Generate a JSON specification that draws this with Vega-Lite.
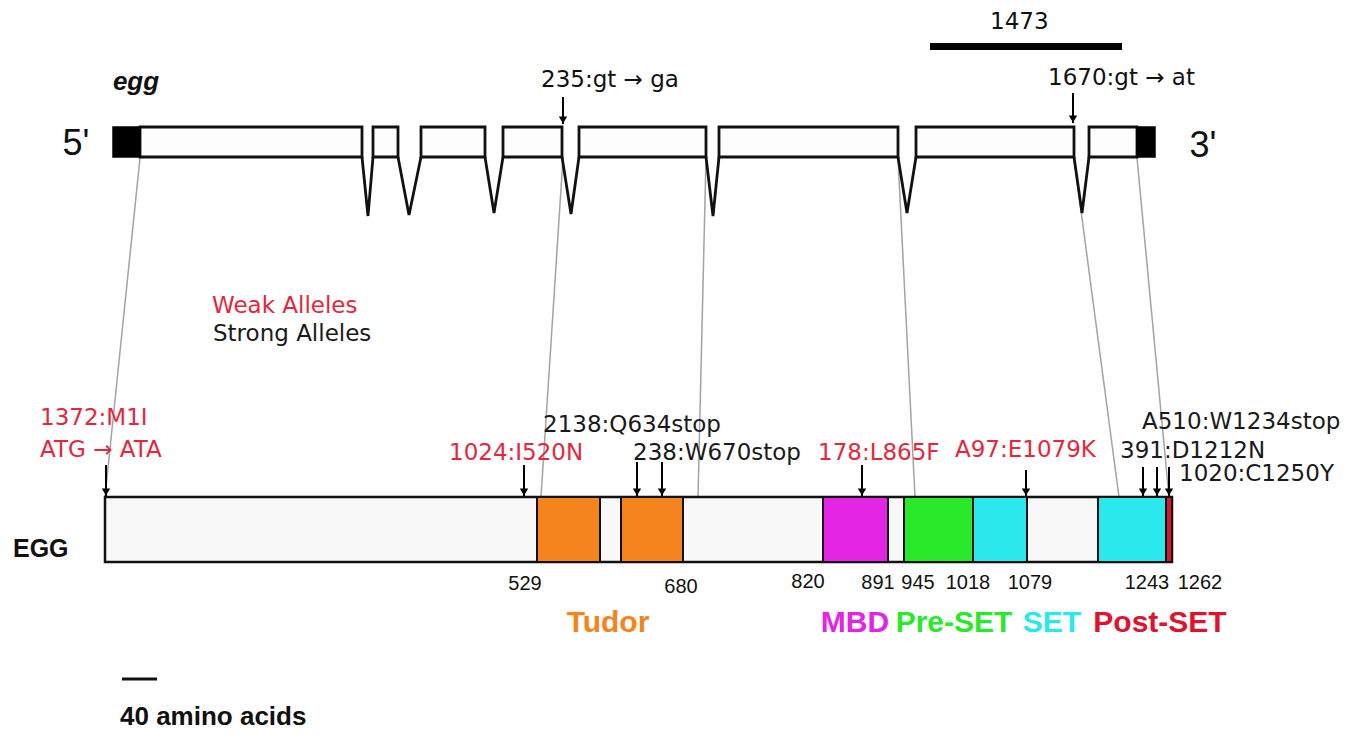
{
  "$schema": "https://vega.github.io/schema/vega-lite/v6.json",
  "width": 1370,
  "height": 741,
  "autosize": {"type": "fit", "contains": "padding"},
  "padding": 0,
  "background": "white",
  "config": {"view": {"stroke": null}},
  "datasets": {
    "connectors": [
      {"x": 140, "y": 158, "x2": 105, "y2": 497},
      {"x": 563, "y": 158, "x2": 541, "y2": 497},
      {"x": 706, "y": 158, "x2": 698, "y2": 497},
      {"x": 898, "y": 158, "x2": 915, "y2": 497},
      {"x": 1074, "y": 158, "x2": 1119, "y2": 497},
      {"x": 1137, "y": 158, "x2": 1169, "y2": 497}
    ],
    "gene": [
      {"part": "exon", "x": 140, "x2": 362, "y": 127, "y2": 157},
      {"part": "exon", "x": 373, "x2": 398, "y": 127, "y2": 157},
      {"part": "exon", "x": 421, "x2": 485, "y": 127, "y2": 157},
      {"part": "exon", "x": 503, "x2": 562, "y": 127, "y2": 157},
      {"part": "exon", "x": 579, "x2": 706, "y": 127, "y2": 157},
      {"part": "exon", "x": 719, "x2": 898, "y": 127, "y2": 157},
      {"part": "exon", "x": 916, "x2": 1074, "y": 127, "y2": 157},
      {"part": "exon", "x": 1089, "x2": 1137, "y": 127, "y2": 157},
      {"part": "utr", "x": 113, "x2": 140, "y": 127, "y2": 157},
      {"part": "utr", "x": 1137, "x2": 1155, "y": 127, "y2": 157}
    ],
    "introns": [
      {"id": 1, "k": 0, "x": 362, "y": 157}, {"id": 1, "k": 1, "x": 368, "y": 216}, {"id": 1, "k": 2, "x": 373, "y": 157},
      {"id": 2, "k": 0, "x": 398, "y": 157}, {"id": 2, "k": 1, "x": 409, "y": 215}, {"id": 2, "k": 2, "x": 421, "y": 157},
      {"id": 3, "k": 0, "x": 485, "y": 157}, {"id": 3, "k": 1, "x": 494, "y": 213}, {"id": 3, "k": 2, "x": 503, "y": 157},
      {"id": 4, "k": 0, "x": 562, "y": 157}, {"id": 4, "k": 1, "x": 571, "y": 214}, {"id": 4, "k": 2, "x": 579, "y": 157},
      {"id": 5, "k": 0, "x": 706, "y": 157}, {"id": 5, "k": 1, "x": 713, "y": 216}, {"id": 5, "k": 2, "x": 719, "y": 157},
      {"id": 6, "k": 0, "x": 898, "y": 157}, {"id": 6, "k": 1, "x": 907, "y": 213}, {"id": 6, "k": 2, "x": 916, "y": 157},
      {"id": 7, "k": 0, "x": 1074, "y": 157}, {"id": 7, "k": 1, "x": 1082, "y": 213}, {"id": 7, "k": 2, "x": 1089, "y": 157}
    ],
    "scalebars": [
      {"bar": "1473 bp", "x": 930, "x2": 1122, "y": 46.5},
      {"bar": "40 aa", "x": 122, "x2": 157, "y": 679}
    ],
    "protein": [
      {"x": 105, "x2": 1172, "y": 497, "y2": 562}
    ],
    "domains": [
      {"kind": "Tudor", "x": 537, "x2": 600, "y": 497, "y2": 562},
      {"kind": "Tudor", "x": 621, "x2": 683, "y": 497, "y2": 562},
      {"kind": "MBD", "x": 823, "x2": 888, "y": 497, "y2": 562},
      {"kind": "Pre-SET", "x": 904, "x2": 973, "y": 497, "y2": 562},
      {"kind": "SET", "x": 973, "x2": 1027, "y": 497, "y2": 562},
      {"kind": "SET", "x": 1098, "x2": 1166, "y": 497, "y2": 562},
      {"kind": "Post-SET", "x": 1166, "x2": 1172, "y": 497, "y2": 562}
    ],
    "arrows": [
      {"x": 563, "y": 97, "y2": 124},
      {"x": 1073, "y": 93, "y2": 123},
      {"x": 106, "y": 465, "y2": 496},
      {"x": 524, "y": 465, "y2": 496},
      {"x": 637, "y": 462, "y2": 496},
      {"x": 662, "y": 462, "y2": 496},
      {"x": 862, "y": 465, "y2": 496},
      {"x": 1026, "y": 470, "y2": 496},
      {"x": 1143, "y": 467, "y2": 496},
      {"x": 1157, "y": 467, "y2": 496},
      {"x": 1169, "y": 467, "y2": 496}
    ],
    "texts": [
      {"g": "egg", "t": "egg", "x": 136, "y": 82, "kind": "plain"},
      {"g": "prime", "t": "5'", "x": 76, "y": 144, "kind": "plain"},
      {"g": "prime", "t": "3'", "x": 1203, "y": 146, "kind": "plain"},
      {"g": "lab", "t": "1473", "x": 990, "y": 22, "kind": "plain"},
      {"g": "lab", "t": "235:gt → ga", "x": 541, "y": 80, "kind": "plain"},
      {"g": "lab", "t": "1670:gt → at", "x": 1048, "y": 78, "kind": "plain"},
      {"g": "lab", "t": "1372:M1I", "x": 40, "y": 418, "kind": "weak"},
      {"g": "lab", "t": "ATG → ATA", "x": 40, "y": 450, "kind": "weak"},
      {"g": "lab", "t": "1024:I520N", "x": 449, "y": 453, "kind": "weak"},
      {"g": "lab", "t": "2138:Q634stop", "x": 543, "y": 425, "kind": "strong"},
      {"g": "lab", "t": "238:W670stop", "x": 633, "y": 453, "kind": "strong"},
      {"g": "lab", "t": "178:L865F", "x": 818, "y": 453, "kind": "weak"},
      {"g": "lab", "t": "A97:E1079K", "x": 955, "y": 450, "kind": "weak"},
      {"g": "lab", "t": "A510:W1234stop", "x": 1142, "y": 422, "kind": "strong"},
      {"g": "lab", "t": "391:D1212N", "x": 1120, "y": 451, "kind": "strong"},
      {"g": "lab", "t": "1020:C1250Y", "x": 1179, "y": 474, "kind": "strong"},
      {"g": "leg", "t": "Weak Alleles", "x": 212, "y": 306, "kind": "weak"},
      {"g": "leg", "t": "Strong Alleles", "x": 213, "y": 334, "kind": "strong"},
      {"g": "num", "t": "529", "x": 525, "y": 584, "kind": "plain"},
      {"g": "num", "t": "680", "x": 681, "y": 587, "kind": "plain"},
      {"g": "num", "t": "820", "x": 808, "y": 582, "kind": "plain"},
      {"g": "num", "t": "891", "x": 878, "y": 583, "kind": "plain"},
      {"g": "num", "t": "945", "x": 918, "y": 583, "kind": "plain"},
      {"g": "num", "t": "1018", "x": 968, "y": 583, "kind": "plain"},
      {"g": "num", "t": "1079", "x": 1030, "y": 583, "kind": "plain"},
      {"g": "num", "t": "1243", "x": 1147, "y": 583, "kind": "plain"},
      {"g": "num", "t": "1262", "x": 1200, "y": 583, "kind": "plain"},
      {"g": "dom", "t": "Tudor", "x": 608, "y": 623, "kind": "Tudor"},
      {"g": "dom", "t": "MBD", "x": 855, "y": 623, "kind": "MBD"},
      {"g": "dom", "t": "Pre-SET", "x": 954, "y": 623, "kind": "Pre-SET"},
      {"g": "dom", "t": "SET", "x": 1052, "y": 623, "kind": "SET"},
      {"g": "dom", "t": "Post-SET", "x": 1160, "y": 623, "kind": "Post-SET"},
      {"g": "big", "t": "EGG", "x": 13, "y": 549, "kind": "plain"},
      {"g": "big2", "t": "40 amino acids", "x": 120, "y": 717, "kind": "plain"}
    ]
  },
  "encoding": {
    "x": {"field": "x", "type": "quantitative", "scale": {"domain": [0, 1370], "nice": false, "zero": false}, "axis": null},
    "y": {"field": "y", "type": "quantitative", "scale": {"domain": [0, 741], "nice": false, "zero": false, "reverse": true}, "axis": null}
  },
  "layer": [
    {
      "data": {"name": "connectors"},
      "mark": {"type": "rule", "color": "#a3a3a3", "strokeWidth": 1.5},
      "encoding": {"x2": {"field": "x2"}, "y2": {"field": "y2"}}
    },
    {
      "data": {"name": "gene"},
      "transform": [{"filter": "datum.part === 'exon'"}],
      "mark": {"type": "rect", "fill": "#fdfdfd", "stroke": "#111", "strokeWidth": 2.8},
      "encoding": {"x2": {"field": "x2"}, "y2": {"field": "y2"}}
    },
    {
      "data": {"name": "gene"},
      "transform": [{"filter": "datum.part === 'utr'"}],
      "mark": {"type": "rect", "fill": "#000", "stroke": "#000", "strokeWidth": 1.5},
      "encoding": {"x2": {"field": "x2"}, "y2": {"field": "y2"}}
    },
    {
      "data": {"name": "introns"},
      "mark": {"type": "line", "color": "#111", "strokeWidth": 2.8, "strokeJoin": "miter"},
      "encoding": {"detail": {"field": "id"}, "order": {"field": "k"}}
    },
    {
      "data": {"name": "scalebars"},
      "transform": [{"filter": "datum.bar === '1473 bp'"}],
      "mark": {"type": "rule", "color": "#000", "strokeWidth": 7},
      "encoding": {"x2": {"field": "x2"}}
    },
    {
      "data": {"name": "scalebars"},
      "transform": [{"filter": "datum.bar === '40 aa'"}],
      "mark": {"type": "rule", "color": "#111", "strokeWidth": 3},
      "encoding": {"x2": {"field": "x2"}}
    },
    {
      "data": {"name": "protein"},
      "mark": {"type": "rect", "fill": "#f8f8f8", "stroke": "#111", "strokeWidth": 2.5},
      "encoding": {"x2": {"field": "x2"}, "y2": {"field": "y2"}}
    },
    {
      "data": {"name": "domains"},
      "mark": {"type": "rect", "stroke": "#111", "strokeWidth": 2, "opacity": 1},
      "encoding": {
        "x2": {"field": "x2"}, "y2": {"field": "y2"},
        "color": {"field": "kind", "type": "nominal", "legend": null,
          "scale": {"domain": ["weak", "strong", "plain", "Tudor", "MBD", "Pre-SET", "SET", "Post-SET"],
                    "range": ["#e3283e", "#1a1a1a", "#111111", "#f5841f", "#e324e3", "#2ae82a", "#2ae8ec", "#dc1430"]}}
      }
    },
    {
      "data": {"name": "arrows"},
      "mark": {"type": "rule", "color": "#000", "strokeWidth": 2},
      "encoding": {"y2": {"field": "y2"}}
    },
    {
      "data": {"name": "arrows"},
      "mark": {"type": "point", "shape": "triangle-down", "filled": true, "color": "#000", "size": 70, "yOffset": -4, "opacity": 1},
      "encoding": {"y": {"field": "y2", "type": "quantitative"}}
    },
    {
      "data": {"name": "texts"},
      "transform": [{"filter": "datum.g === 'egg'"}],
      "mark": {"type": "text", "font": "Liberation Sans", "fontSize": 26, "fontWeight": "bold", "fontStyle": "italic", "align": "center", "baseline": "middle"},
      "encoding": {"text": {"field": "t"}, "color": {"field": "kind", "type": "nominal", "legend": null}}
    },
    {
      "data": {"name": "texts"},
      "transform": [{"filter": "datum.g === 'prime'"}],
      "mark": {"type": "text", "font": "Liberation Sans", "fontSize": 36, "align": "center", "baseline": "middle"},
      "encoding": {"text": {"field": "t"}, "color": {"field": "kind", "type": "nominal", "legend": null}}
    },
    {
      "data": {"name": "texts"},
      "transform": [{"filter": "datum.g === 'lab'"}],
      "mark": {"type": "text", "font": "DejaVu Sans", "fontSize": 23, "align": "left", "baseline": "middle"},
      "encoding": {"text": {"field": "t"}, "color": {"field": "kind", "type": "nominal", "legend": null}}
    },
    {
      "data": {"name": "texts"},
      "transform": [{"filter": "datum.g === 'leg'"}],
      "mark": {"type": "text", "font": "DejaVu Sans", "fontSize": 23, "align": "left", "baseline": "middle"},
      "encoding": {"text": {"field": "t"}, "color": {"field": "kind", "type": "nominal", "legend": null}}
    },
    {
      "data": {"name": "texts"},
      "transform": [{"filter": "datum.g === 'num'"}],
      "mark": {"type": "text", "font": "Liberation Sans", "fontSize": 20, "align": "center", "baseline": "middle"},
      "encoding": {"text": {"field": "t"}, "color": {"field": "kind", "type": "nominal", "legend": null}}
    },
    {
      "data": {"name": "texts"},
      "transform": [{"filter": "datum.g === 'dom'"}],
      "mark": {"type": "text", "font": "Liberation Sans", "fontSize": 30, "fontWeight": "bold", "align": "center", "baseline": "middle"},
      "encoding": {"text": {"field": "t"}, "color": {"field": "kind", "type": "nominal", "legend": null}}
    },
    {
      "data": {"name": "texts"},
      "transform": [{"filter": "datum.g === 'big'"}],
      "mark": {"type": "text", "font": "Liberation Sans", "fontSize": 25, "fontWeight": "bold", "align": "left", "baseline": "middle"},
      "encoding": {"text": {"field": "t"}, "color": {"field": "kind", "type": "nominal", "legend": null}}
    },
    {
      "data": {"name": "texts"},
      "transform": [{"filter": "datum.g === 'big2'"}],
      "mark": {"type": "text", "font": "Liberation Sans", "fontSize": 26, "fontWeight": "bold", "align": "left", "baseline": "middle"},
      "encoding": {"text": {"field": "t"}, "color": {"field": "kind", "type": "nominal", "legend": null}}
    }
  ]
}
